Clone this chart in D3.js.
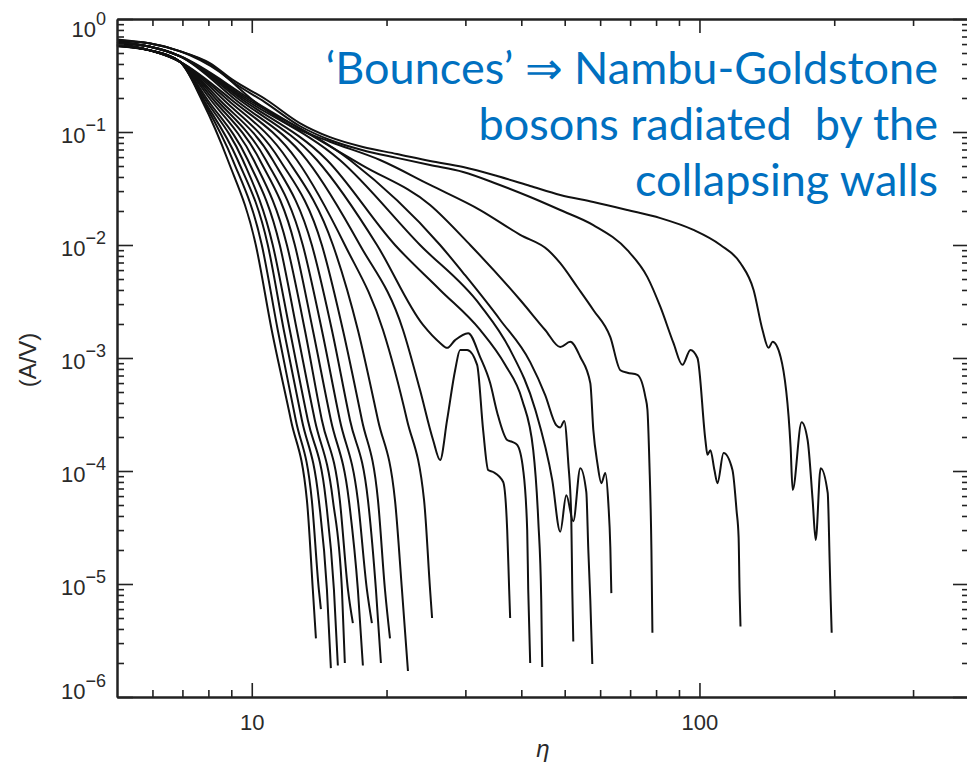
<!DOCTYPE html>
<html>
<head>
<meta charset="utf-8">
<script src="https://cdn.jsdelivr.net/npm/d3@7"></script>
<style>
  body { margin: 0; background: #fff; }
  svg { display: block; }
  .axis .domain { stroke: #222; stroke-width: 2; }
  .axis .tick line { stroke: #222; stroke-width: 1.6; }
  .lbl { font-family: "Liberation Sans", Arial, sans-serif; fill: #2a2a2a; }
</style>
</head>
<body>
<svg id="chart" width="967" height="764"></svg>
<script>
var width = 967,
    height = 764;

/**
 * Data: A/V against eta
 */
// start value of each curve at eta = 5 (curve 1 .. 21)
var startA = [0.575, 0.578, 0.58, 0.583, 0.585, 0.588, 0.59, 0.593, 0.595, 0.598, 0.60, 0.603,
              0.61, 0.614, 0.618, 0.622, 0.626, 0.63, 0.64, 0.65, 0.66];
// the bundle at eta = 5.9 and 6.9, per group of curves
var headEta = [5.9, 6.9],
    fanHead = [0.53, 0.42],
    slowHead = [0.57, 0.47],
    topHead = [0.61, 0.52];

// the 12 steep curves: eta where each one crosses these A/V levels
var fanLevels = [0.192, 0.0565, 0.01, 0.00177, 2.83e-4, 5.5e-5, 8.9e-6];
var fanEta = [
  [7.73, 8.84, 10.21, 11.08, 12.23, 13.28, 13.69],
  [7.77, 9.07, 10.53, 11.43, 12.54, 13.62, 14.12],
  [7.81, 9.30, 10.86, 11.79, 12.94, 14.12, 14.72],
  [7.89, 9.55, 11.14, 12.16, 13.34, 14.64, 15.26],
  [7.97, 9.80, 11.55, 12.61, 13.83, 15.18, 15.90],
  [8.10, 10.10, 11.98, 13.14, 14.34, 15.73, 16.40],
  [8.22, 10.42, 12.48, 13.69, 15.02, 16.48, 17.26],
  [8.35, 10.75, 13.00, 14.34, 15.73, 17.26, 18.08],
  [8.48, 11.14, 13.62, 15.10, 16.57, 18.18, 18.94],
  [8.66, 11.55, 14.34, 15.98, 17.62, 19.14, 19.84],
  [8.84, 12.04, 15.18, 17.26, 19.14, 20.89, 21.65],
  [9.02, 12.61, 16.14, 19.64, 22.22, 24.26, 25.02]
];
var fanEnd = [
  [13.91, 3.3e-6], [14.27, 6.0e-6], [15.02, 1.8e-6], [15.57, 1.9e-6],
  [16.14, 2.0e-6], [16.82, 4.5e-6], [17.71, 1.9e-6], [18.55, 4.5e-6],
  [19.43, 2.0e-6], [20.36, 3.3e-6], [22.33, 1.7e-6], [25.28, 5.0e-6]
];

// slower curves, with the bounces
var curve13 = [[9.21, 0.192], [13.28, 0.0565], [17.44, 0.01], [21.77, 1.77e-3], [23.76, 5.2e-4],
  [25.41, 1.88e-4], [26.34, 1.25e-4], [27.31, 2.83e-4], [28.46, 7.8e-4], [29.2, 1.18e-3],
  [30.27, 1.18e-3], [31.87, 8.7e-4], [32.87, 2.3e-4], [33.73, 1.02e-4], [34.61, 9.8e-5],
  [36.44, 8.0e-5], [37.2, 3.0e-5], [37.58, 8.9e-6], [37.77, 5.0e-6]];
var curve14 = [[9.40, 0.192], [13.98, 0.0565], [19.04, 0.01], [24.13, 1.96e-3], [26.34, 1.36e-3],
  [27.31, 1.23e-3], [28.46, 1.44e-3], [30.43, 1.66e-3], [32.37, 1.02e-3], [34.08, 6.0e-4],
  [35.33, 3.3e-4], [37.2, 1.88e-4], [38.17, 1.81e-4], [39.16, 1.7e-4], [40.39, 1.02e-4],
  [41.23, 3.0e-5], [41.45, 8.9e-6], [41.87, 2.0e-6]];
var curve15 = [[9.55, 0.192], [14.72, 0.0565], [20.89, 0.01], [26.34, 4.0e-3], [32.37, 1.77e-3],
  [36.81, 8.7e-4], [40.18, 4.25e-4], [42.53, 1.53e-4], [43.64, 3.7e-5], [44.32, 7.2e-6],
  [44.54, 1.84e-6]];
var curve16 = [[9.85, 0.192], [16.57, 0.0565], [26.34, 0.01], [29.96, 5.4e-3], [35.89, 2.17e-3],
  [41.87, 9.2e-4], [45.23, 4.7e-4], [47.86, 2.55e-4], [48.87, 2.43e-4], [49.89, 2.77e-4],
  [50.93, 1.18e-4], [51.72, 3.9e-5], [51.99, 8.9e-6], [52.26, 3.1e-6]];
var curve17 = [[9.70, 0.192], [15.73, 0.0565], [23.76, 0.01], [32.37, 2.94e-3], [37.77, 1.18e-3],
  [42.97, 3.5e-4], [46.9, 8.3e-5], [48.87, 2.9e-5], [50.41, 6.1e-5], [52.26, 3.6e-5],
  [54.18, 1.06e-4], [55.88, 6.5e-5], [56.46, 2.0e-5], [57.04, 7.2e-6], [57.63, 1.96e-6]];
var curve18 = [[10.0, 0.192], [17.62, 0.051], [25.02, 0.0226], [30.75, 0.01], [39.77, 3.26e-3],
  [45.23, 1.77e-3], [48.87, 1.25e-3], [51.46, 1.39e-3], [54.18, 1.02e-3], [57.04, 6.0e-4],
  [57.93, 2.31e-4], [59.14, 1.18e-4], [60.37, 7.8e-5], [61.62, 9.6e-5], [62.58, 5.2e-5],
  [63.23, 2.1e-5], [63.56, 8.3e-6]];

// the three curves along the upper envelope
var curve19 = [[8.48, 0.34], [10.05, 0.192], [12.16, 0.115], [14.95, 0.082], [19.34, 0.0565],
  [25.02, 0.034], [32.37, 0.0204], [39.77, 0.0123], [45.94, 9.0e-3], [48.87, 6.9e-3],
  [53.35, 4.25e-3], [57.93, 2.66e-3], [63.23, 1.53e-3], [66.58, 7.8e-4], [69.02, 7.4e-4],
  [72.66, 7.1e-4], [75.73, 4.5e-4], [76.51, 3.5e-4], [77.3, 1.18e-4], [78.11, 2.0e-5],
  [78.51, 3.7e-6]];
var curve20 = [[8.06, 0.40], [9.07, 0.277], [10.69, 0.184], [12.8, 0.113], [14.95, 0.085],
  [17.71, 0.069], [21.1, 0.059], [25.02, 0.051], [29.66, 0.0443], [35.33, 0.0347],
  [41.87, 0.0266], [48.87, 0.0204], [57.93, 0.015], [69.02, 9.0e-3], [76.51, 5.2e-3],
  [81.8, 2.83e-3], [87.47, 1.36e-3], [91.61, 8.7e-4], [95.47, 1.18e-3], [98.98, 1.0e-3],
  [103.1, 1.88e-4], [104.2, 1.39e-4], [105.8, 1.53e-4], [108.0, 1.02e-4], [109.7, 7.8e-5],
  [113.2, 1.44e-4], [118.5, 1.02e-4], [121.0, 4.5e-5], [122.3, 2.6e-5], [122.9, 8.9e-6],
  [123.5, 4.2e-6]];
var curve21 = [[8.06, 0.408], [9.07, 0.289], [10.8, 0.192], [12.8, 0.12], [14.95, 0.09],
  [17.71, 0.0737], [21.1, 0.0639], [25.02, 0.0554], [29.66, 0.049], [35.33, 0.0408],
  [41.87, 0.0333], [48.87, 0.0277], [57.93, 0.024], [69.02, 0.0204], [81.8, 0.0173],
  [96.96, 0.0136], [111.4, 0.01], [123.5, 6.9e-3], [132.1, 4.0e-3], [138.3, 1.77e-3],
  [142.7, 1.23e-3], [145.7, 1.39e-3], [151.8, 1.02e-3], [159.8, 1.63e-4], [161.5, 6.8e-5],
  [169.1, 2.7e-4], [174.4, 1.88e-4], [179.0, 5.5e-5], [181.8, 2.45e-5], [186.5, 1.06e-4],
  [193.4, 6.4e-5], [195.4, 1.53e-5], [196.4, 7.2e-6], [197.4, 3.7e-6]];

// axis labels
var xMajor = [10, 100],
    xLabels = ["10", "100"];
var yMajor = [1, 0.1, 0.01, 0.001, 1e-4, 1e-5, 1e-6],
    yExp = ["0", "\u22121", "\u22122", "\u22123", "\u22124", "\u22125", "\u22126"];

var noteLines = ["\u2018Bounces\u2019 \u21d2 Nambu-Goldstone", "bosons radiated  by the", "collapsing walls"];

/**
 * Scales
 */
var x = d3.scaleLog().domain([5, 400]).range([117, 969]);
var y = d3.scaleLog().domain([1e-6, 1]).range([697, 19]);

var svg = d3.select("#chart");

/**
 * Curves
 */
function head(k, group) {
    return [[5, startA[k]], [headEta[0], group[0]], [headEta[1], group[1]]];
}

var curves = [];
fanEta.forEach(function(row, i) {
    var pts = head(i, fanHead);
    row.forEach(function(e, j) { pts.push([e, fanLevels[j]]); });
    pts.push(fanEnd[i]);
    curves.push(pts);
});
[curve13, curve14, curve15, curve16, curve17, curve18].forEach(function(c, i) {
    curves.push(head(12 + i, slowHead).concat(c));
});
[curve19, curve20, curve21].forEach(function(c, i) {
    curves.push(head(18 + i, topHead).concat(c));
});

var line = d3.line()
    .x(function(d) { return x(d[0]); })
    .y(function(d) { return y(d[1]); })
    .curve(d3.curveMonotoneX);

svg.append("g").selectAll("path")
    .data(curves)
    .enter()
    .append("path")
    .attr("d", line)
    .attr("fill", "none")
    .attr("stroke", "#111")
    .attr("stroke-width", 2)
    .attr("stroke-linejoin", "round");

/**
 * Axes, ticks on all four sides pointing inwards
 */
var xMinor = x.ticks().filter(function(d) { return xMajor.indexOf(d) < 0 && d > 5 && d < 400; });
var yMinor = y.ticks().filter(function(d) {
    var l = Math.log10(d);
    return Math.abs(l - Math.round(l)) > 1e-6;
});

function addAxis(axisFn, scale, values, size, tx, ty) {
    return svg.append("g")
        .attr("class", "axis")
        .attr("transform", "translate(" + tx + "," + ty + ")")
        .call(axisFn(scale).tickValues(values).tickSize(size).tickSizeOuter(0).tickFormat(""));
}

addAxis(d3.axisBottom, x, xMinor, -7, 0, 697);
var bottom = addAxis(d3.axisBottom, x, xMajor, -14, 0, 697);
addAxis(d3.axisTop, x, xMinor, -7, 0, 19);
addAxis(d3.axisTop, x, xMajor, -14, 0, 19);
addAxis(d3.axisLeft, y, yMinor, -7, 117, 0);
var left = addAxis(d3.axisLeft, y, yMajor, -16, 117, 0);
addAxis(d3.axisRight, y, yMinor, -7, 969, 0);
addAxis(d3.axisRight, y, yMajor, -16, 969, 0);

bottom.selectAll(".tick").append("text")
    .attr("class", "lbl")
    .attr("y", 33)
    .attr("text-anchor", "middle")
    .style("font-size", "22px")
    .text(function(d, i) { return xLabels[i]; });

left.selectAll(".tick").each(function(d, i) {
    var shift = i === 0 ? 7 : (i === yMajor.length - 1 ? -9 : 0);
    var t = d3.select(this).append("text")
        .attr("class", "lbl")
        .attr("x", -11)
        .attr("y", 10 + shift)
        .attr("text-anchor", "end");
    t.append("tspan").style("font-size", "22px").text("10");
    t.append("tspan").style("font-size", "18px").attr("dy", -12).text(yExp[i]);
});

// axis titles
svg.append("text")
    .attr("class", "lbl")
    .attr("x", 543)
    .attr("y", 757)
    .attr("text-anchor", "middle")
    .style("font-size", "24px")
    .style("font-style", "italic")
    .text("\u03b7");

svg.append("text")
    .attr("class", "lbl")
    .attr("transform", "translate(36,360) rotate(-90)")
    .attr("text-anchor", "middle")
    .style("font-size", "24px")
    .text("(A/V)");

/**
 * Annotation
 */
svg.append("g").selectAll("text")
    .data(noteLines)
    .enter()
    .append("text")
    .attr("x", 938)
    .attr("y", function(d, i) { return 84 + i * 56; })
    .attr("text-anchor", "end")
    .style("white-space", "pre")
    .style("font-family", "Lato, 'Open Sans', sans-serif")
    .style("font-size", "45px")
    .attr("fill", "#0070c0")
    .text(function(d) { return d; });
</script>
</body>
</html>
